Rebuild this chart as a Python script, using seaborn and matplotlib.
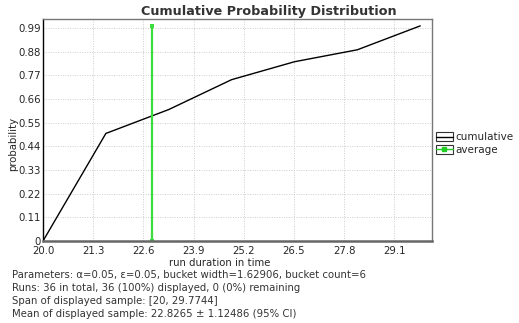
import seaborn as sns
import matplotlib.pyplot as plt
import pandas as pd
import numpy as np
from matplotlib.legend_handler import HandlerBase
from matplotlib.patches import Rectangle
from matplotlib.lines import Line2D

# Datos
duracion = [20.0, 21.62906, 23.25812, 24.88718, 26.51624, 28.1453, 29.7744]
probabilidad = [0.0, 0.5, 0.6111, 0.75, 0.8333, 0.8889, 1.0]
media = 22.8265
media_y = [0.0, 1.0]
xticks = [20.0, 21.3, 22.6, 23.9, 25.2, 26.5, 27.8, 29.1]
yticks = [0, 0.11, 0.22, 0.33, 0.44, 0.55, 0.66, 0.77, 0.88, 0.99]
ytick_labels = ["0", "0.11", "0.22", "0.33", "0.44", "0.55", "0.66", "0.77", "0.88", "0.99"]
notas = [
    "Parameters: \u03b1=0.05, \u03b5=0.05, bucket width=1.62906, bucket count=6",
    "Runs: 36 in total, 36 (100%) displayed, 0 (0%) remaining",
    "Span of displayed sample: [20, 29.7744]",
    "Mean of displayed sample: 22.8265 \u00b1 1.12486 (95% CI)",
]

sns.set_style("white")
plt.rcParams['font.family'] = ['DejaVu Sans']

W, H = 519, 323
df = pd.DataFrame({"x": duracion, "y": probabilidad})
df_media = pd.DataFrame({"x": [media, media], "y": media_y})

fig = plt.figure(figsize=(W / 100, H / 100), dpi=100)
ax = fig.add_axes([43 / W, 1 - 241 / H, 389 / W, 222 / H])

sns.lineplot(data=df, x="x", y="y", color="black", linewidth=1,
             estimator=None, sort=False, ax=ax)
sns.lineplot(data=df_media, x="x", y="y", color="#3ddc3d", linewidth=1.6,
             marker="s", markersize=3, markeredgewidth=0,
             estimator=None, sort=False, ax=ax)

ax.set_xlim(20.0, 30.08)
ax.set_ylim(0, 1.032)
ax.set_xticks(xticks)
ax.set_xticklabels([f"{t:.1f}" for t in xticks], fontsize=7.3)
ax.set_yticks(yticks)
ax.set_yticklabels(ytick_labels, fontsize=7.3)
ax.tick_params(axis="x", length=0, pad=3.5)
ax.tick_params(axis="y", length=0, pad=1.5)
ax.grid(True, linestyle=(0, (1, 1.5)), color="#cccccc", linewidth=0.7)
for lado in ["top", "right"]:
    ax.spines[lado].set_color("#777777")
    ax.spines[lado].set_linewidth(1)
ax.spines["left"].set_color("black")
ax.spines["left"].set_linewidth(1)
ax.spines["bottom"].set_color("#666666")
ax.spines["bottom"].set_linewidth(1.8)

ax.set_xlabel("run duration in time", fontsize=7.3)
ax.xaxis.label.set_va("center")
ax.xaxis.set_label_coords((220 - 43) / 389, (241 - 263) / 222)
ax.set_ylabel("probability", fontsize=7.3)
ax.yaxis.label.set_va("center")
ax.yaxis.set_label_coords((13 - 43) / 389, (241 - 144) / 222)


class HandlerCaja(HandlerBase):
    def create_artists(self, legend, orig_handle, xdescent, ydescent,
                       width, height, fontsize, trans):
        caja = Rectangle((-xdescent, -ydescent - 1), width, height + 1.5,
                         facecolor="white", edgecolor="#333333", linewidth=0.8,
                         transform=trans)
        y = -ydescent + height / 2 - 0.2
        con_marca = orig_handle.get_marker() not in (None, "None", "")
        linea = Line2D([-xdescent, -xdescent + width / 2, -xdescent + width], [y, y, y],
                       color=orig_handle.get_color(), linewidth=1,
                       marker=orig_handle.get_marker() if con_marca else None,
                       markersize=2.5, markevery=[1] if con_marca else None,
                       transform=trans)
        return [caja, linea]


h1 = Line2D([], [], color="black")
h2 = Line2D([], [], color="#22cc22", marker="s")
fig.legend([h1, h2], ["cumulative", "average"], loc="upper left",
           bbox_to_anchor=(436 / W, 1 - 132 / H), frameon=False,
           fontsize=7.5, handlelength=1.6, handletextpad=0.3, labelspacing=0.25,
           borderpad=0, borderaxespad=0,
           handler_map={Line2D: HandlerCaja()})

fig.text(269 / W, 1 - 12 / H, "Cumulative Probability Distribution",
         ha="center", va="center", fontsize=9.2, fontweight="bold", color="#333333")

for i, nota in enumerate(notas):
    fig.text(12 / W, 1 - (275 + i * 13) / H, nota, ha="left", va="center",
             fontsize=7.3, color="#333333")

fig.savefig("out.png", dpi=100)
